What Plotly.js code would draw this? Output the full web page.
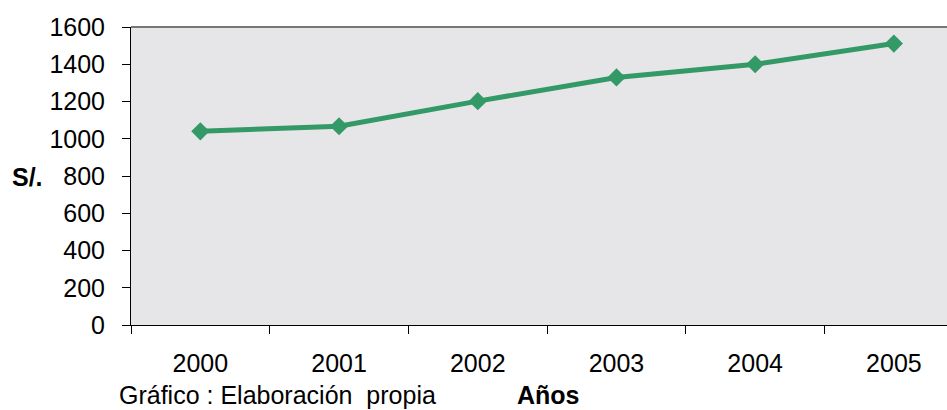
<!DOCTYPE html>
<html>
<head>
<meta charset="utf-8">
<script src="https://cdn.plot.ly/plotly-3.0.1.min.js"></script>
<style>html,body{margin:0;padding:0;background:#fff;}#chart{width:947px;height:410px;}</style>
</head>
<body>
<div id="chart"></div>
<script>
const years = ["2000", "2001", "2002", "2003", "2004", "2005"];
const values = [1040, 1067, 1202, 1329, 1400, 1511];
const yTicks = [0, 200, 400, 600, 800, 1000, 1200, 1400, 1600];

const trace = {
  x: years,
  y: values,
  type: "scatter",
  mode: "lines+markers",
  line: {color: "#339966", width: 5},
  marker: {symbol: "diamond", size: 14, color: "#339966"},
  hoverinfo: "none"
};

const fontFam = "Liberation Sans, Arial, sans-serif";
const FS = 25;
const layout = {
  width: 947, height: 410,
  margin: {l: 131, r: 0, t: 27, b: 85},
  paper_bgcolor: "#ffffff",
  plot_bgcolor: "#e6e6e8",
  showlegend: false,
  font: {family: fontFam, size: FS, color: "#000"},
  xaxis: {
    type: "category",
    range: [-0.5, 5.383],
    tickson: "boundaries",
    ticks: "outside", ticklen: 8, tickcolor: "#000", tickwidth: 1,
    showline: true, linecolor: "#000", linewidth: 1,
    showgrid: false, zeroline: false,
    tickfont: {family: fontFam, size: FS, color: "#000"},
    ticklabelstandoff: 16
  },
  yaxis: {
    range: [0, 1600],
    tickvals: yTicks,
    ticktext: yTicks.map(String),
    ticks: "outside", ticklen: 8, tickcolor: "#000", tickwidth: 1,
    showline: true, linecolor: "#000", linewidth: 1,
    showgrid: false, zeroline: false,
    tickfont: {family: fontFam, size: FS, color: "#000"},
    ticklabelstandoff: 12
  },
  shapes: [{
    type: "line", xref: "paper", yref: "paper",
    x0: 0, x1: 1, y0: 1, y1: 1,
    line: {color: "#777777", width: 2}
  }],
  annotations: [
    {text: "<b>S/.</b>", xref: "paper", yref: "paper",
     x: (27 - 131) / 816, y: (325 - 177) / 298, xanchor: "center", yanchor: "middle",
     showarrow: false, font: {family: fontFam, size: FS, color: "#000"}},
    {text: "Gráfico : Elaboración  propia", xref: "paper", yref: "paper",
     x: (118 - 131) / 816, y: (325 - 410) / 298, xanchor: "left", yanchor: "bottom",
     borderpad: 0, showarrow: false, font: {family: fontFam, size: FS, color: "#000"}},
    {text: "<b>Años</b>", xref: "paper", yref: "paper",
     x: (516 - 131) / 816, y: (325 - 410) / 298, xanchor: "left", yanchor: "bottom",
     borderpad: 0, showarrow: false, font: {family: fontFam, size: FS, color: "#000"}}
  ]
};

Plotly.newPlot("chart", [trace], layout, {displayModeBar: false, staticPlot: true});
</script>
</body>
</html>
